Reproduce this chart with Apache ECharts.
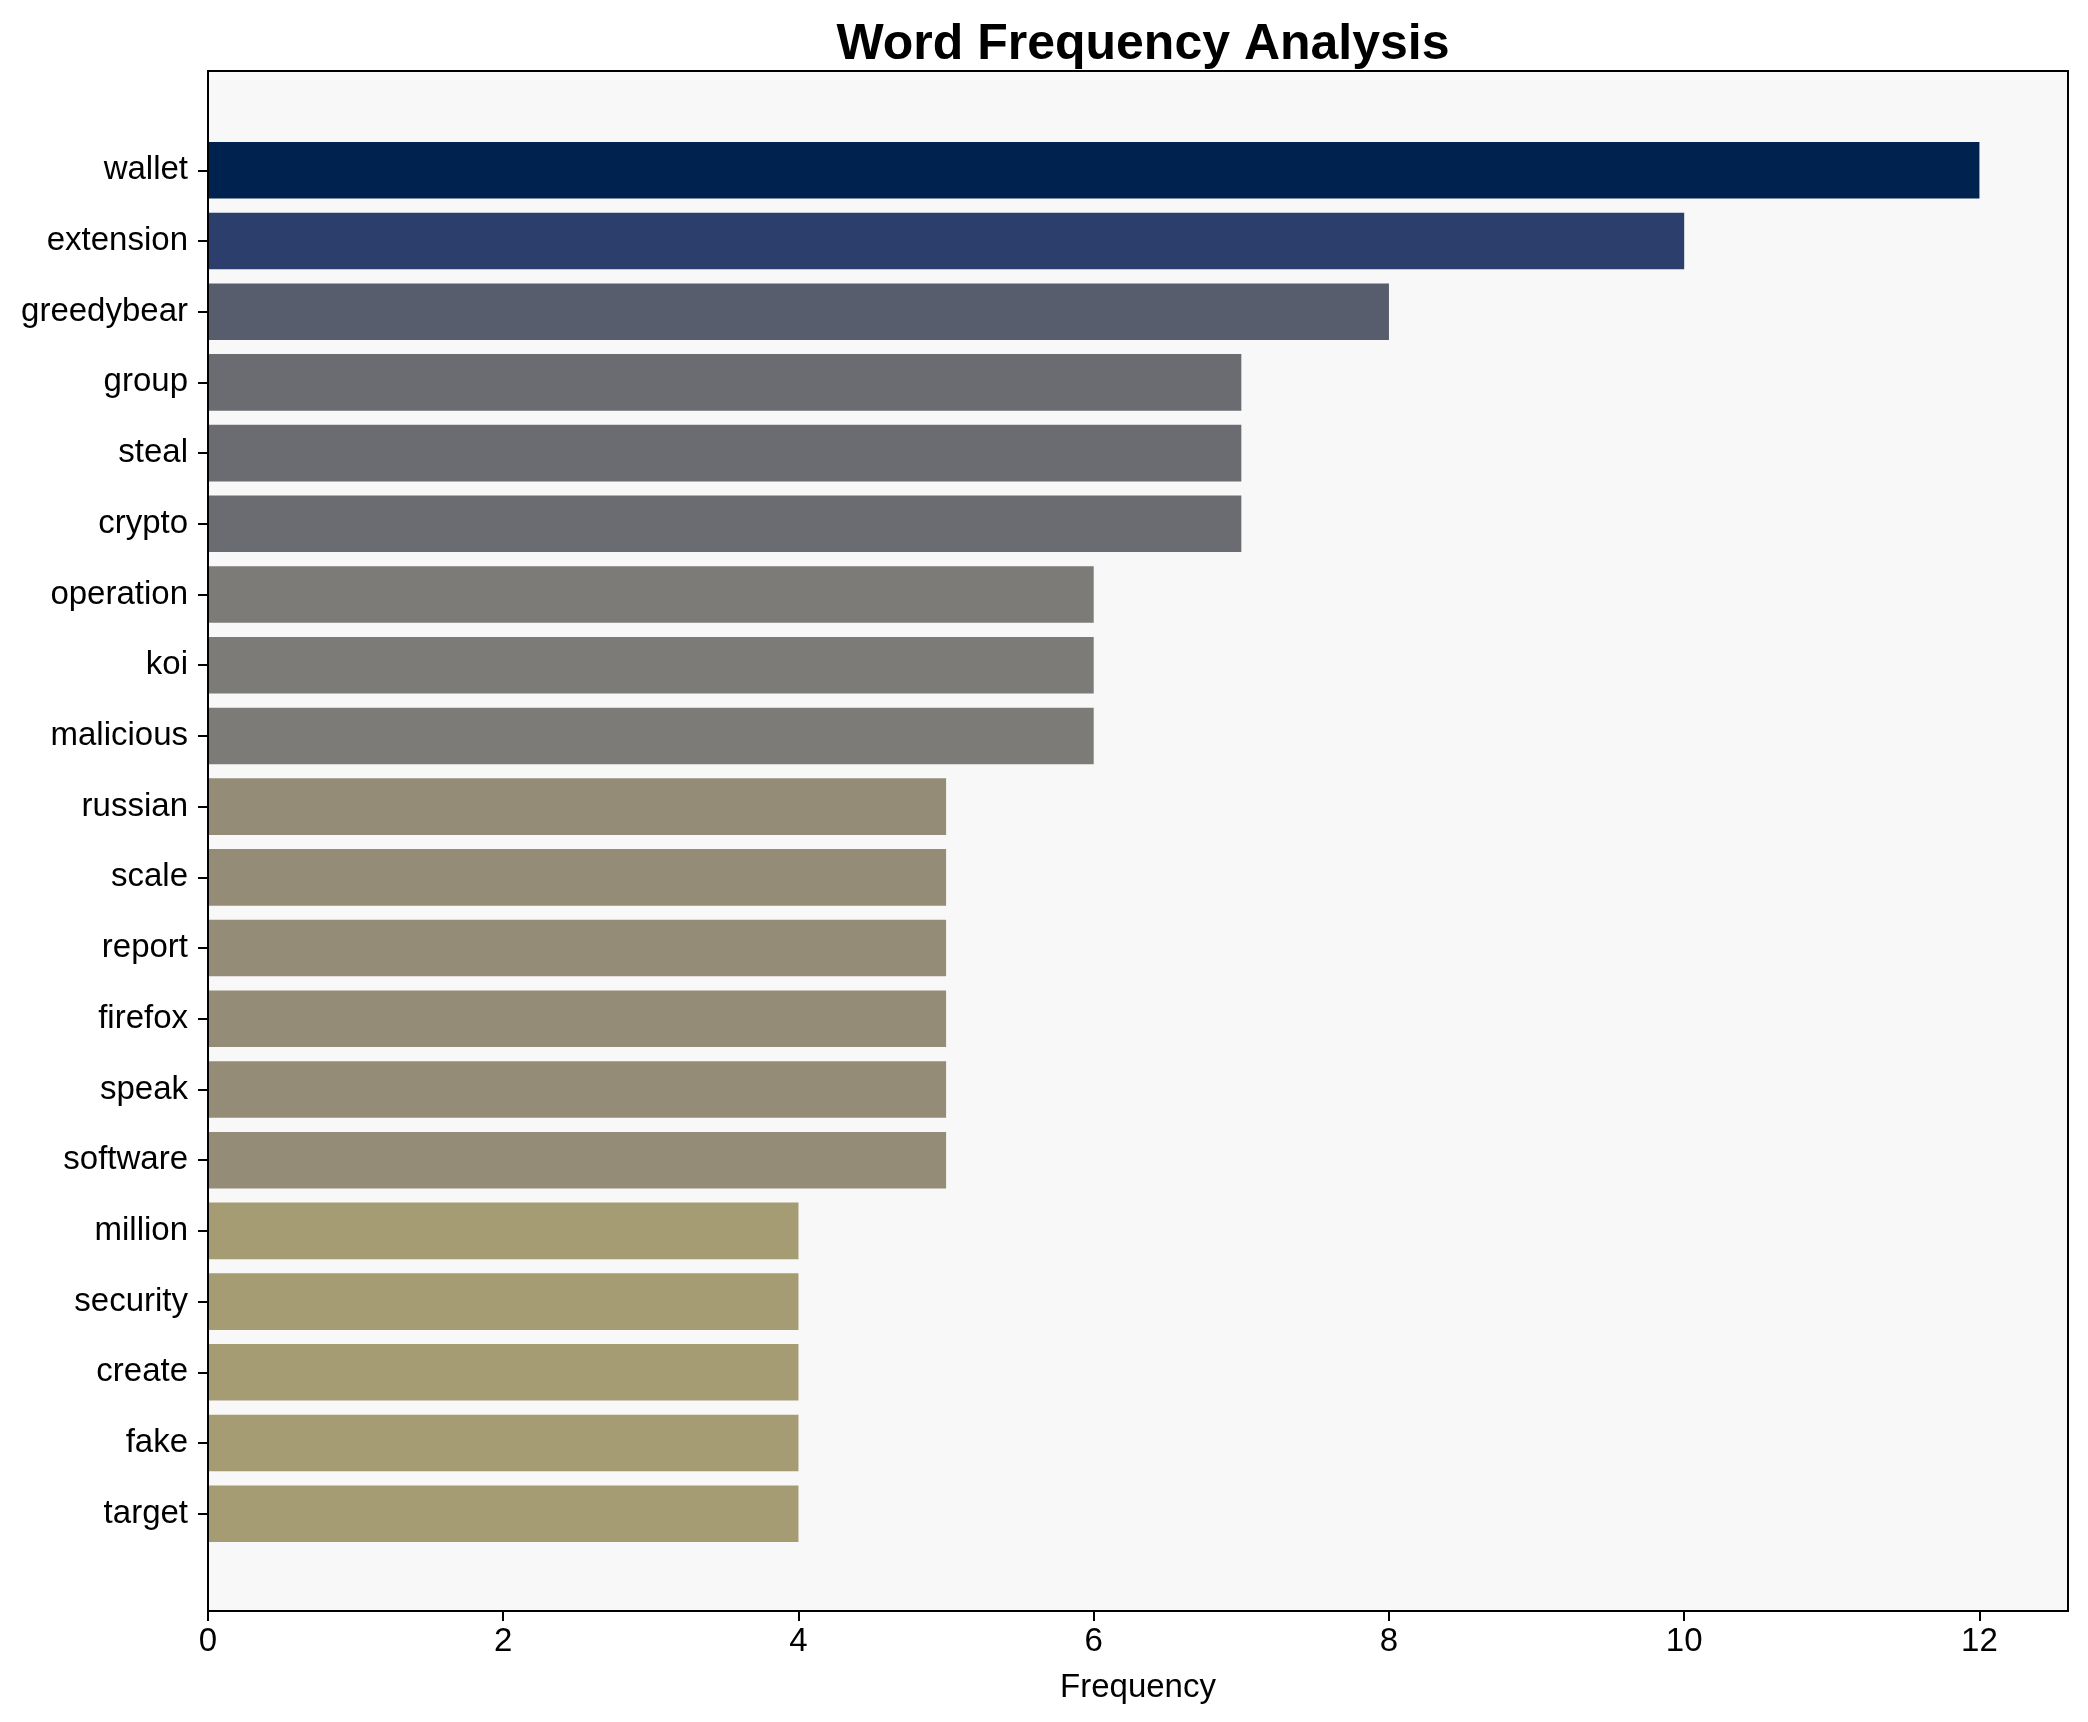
<!DOCTYPE html>
<html>
<head>
<meta charset="utf-8">
<script src="https://cdn.jsdelivr.net/npm/echarts@6/dist/echarts.min.js"></script>
<style>html,body{margin:0;padding:0;background:#fff;}#c{width:2088px;height:1722px;}</style>
</head>
<body>
<div id="c"></div>
<script>
const words = ["wallet","extension","greedybear","group","steal","crypto","operation","koi","malicious","russian","scale","report","firefox","speak","software","million","security","create","fake","target"];
const counts = [12,10,8,7,7,7,6,6,6,5,5,5,5,5,5,4,4,4,4,4];
const barColors = ["#00224e","#2c3e6c","#575d6d","#6b6c72","#6b6c72","#6b6c72","#7d7b78","#7d7b78","#7d7b78","#948c77","#948c77","#948c77","#948c77","#948c77","#948c77","#a59c74","#a59c74","#a59c74","#a59c74","#a59c74"];
const xTicks = [0,2,4,6,8,10,12];

const FONT = "'Liberation Sans', Arial, sans-serif";
const chart = echarts.init(document.getElementById('c'), null, {renderer:'canvas'});
const L = 208, T = 71, W = 1860, H = 1540;
// matplotlib-style y range -1.39..20.39 ; bar bands occupy 20 units
const unit = H / 21.78;
const innerTop = T + 0.89 * unit + 1;
const innerH = 20 * unit;

chart.setOption({
  backgroundColor: '#ffffff',
  animation: false,
  title: {
    text: 'Word Frequency Analysis',
    left: L + W / 2, top: 15, textAlign: 'center',
    textStyle: {fontFamily: FONT, fontSize: 50, fontWeight: 'bold', color: '#000'}
  },
  grid: [
    {left: L, top: T, width: W, height: H, show: true, backgroundColor: '#f8f8f8', borderWidth: 0},
    {left: L, top: innerTop, width: W, height: innerH, show: false}
  ],
  xAxis: [
    {gridIndex: 0, type: 'value', min: 0, max: 12.6, interval: 2, position: 'bottom', z: 10,
     axisLine: {show: true, lineStyle: {color: '#000', width: 2}},
     axisTick: {show: true, inside: false, length: 10, customValues: xTicks, lineStyle: {color: '#000', width: 2}},
     axisLabel: {show: true, margin: 14, fontFamily: FONT, fontSize: 33, color: '#000',
       customValues: xTicks, formatter: v => String(v)},
     splitLine: {show: false},
     name: 'Frequency', nameLocation: 'middle', nameGap: 60,
     nameTextStyle: {fontFamily: FONT, fontSize: 33, color: '#000'}},
    {gridIndex: 0, type: 'value', min: 0, max: 12.6, position: 'top', z: 10,
     axisLine: {show: true, onZero: false, lineStyle: {color: '#000', width: 2}},
     axisTick: {show: false}, axisLabel: {show: false}, splitLine: {show: false}},
    {gridIndex: 1, type: 'value', min: 0, max: 12.6, show: false}
  ],
  yAxis: [
    {gridIndex: 0, type: 'value', min: 0, max: 1, position: 'left', z: 10,
     axisLine: {show: true, onZero: false, lineStyle: {color: '#000', width: 2}},
     axisTick: {show: false}, axisLabel: {show: false}, splitLine: {show: false}},
    {gridIndex: 0, type: 'value', min: 0, max: 1, position: 'right', z: 10,
     axisLine: {show: true, onZero: false, lineStyle: {color: '#000', width: 2}},
     axisTick: {show: false}, axisLabel: {show: false}, splitLine: {show: false}},
    {gridIndex: 1, type: 'category', data: words, inverse: true, position: 'left',
     axisLine: {show: false},
     axisTick: {show: true, alignWithLabel: true, length: 10, lineStyle: {color: '#000', width: 2}},
     axisLabel: {show: true, margin: 20, fontFamily: FONT, fontSize: 33, color: '#000'},
     splitLine: {show: false}}
  ],
  series: [{
    type: 'bar',
    xAxisIndex: 2, yAxisIndex: 2,
    data: counts.map((v, i) => ({value: v, itemStyle: {color: barColors[i]}})),
    barCategoryGap: '20%'
  }]
});
</script>
</body>
</html>
